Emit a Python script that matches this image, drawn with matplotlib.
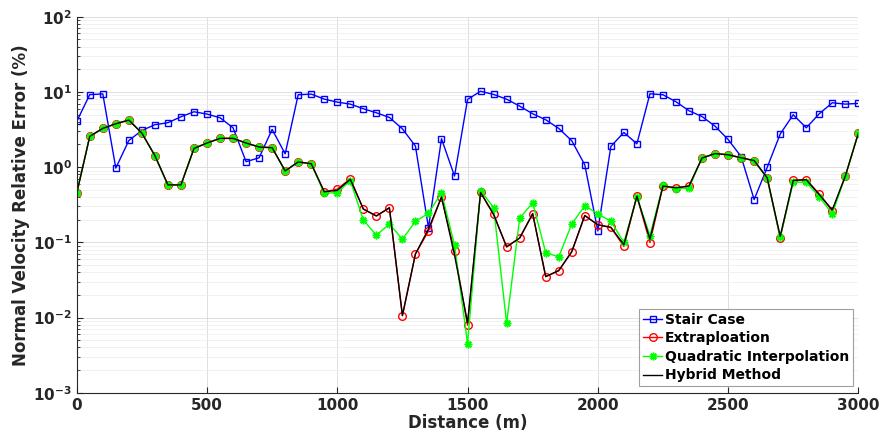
#!/usr/bin/env python3
"""
Normal velocity relative error along the boundary for four schemes
"""
import numpy as np
import matplotlib
matplotlib.use('Agg')
import matplotlib.pyplot as plt
from matplotlib.ticker import LogLocator, FixedLocator

distance = np.arange(0, 3001, 50)

stair_case = [4.05, 9.2, 9.4, 0.97, 2.26, 3.07, 3.66, 3.89, 4.67, 5.44,
              5.07, 4.53, 3.33, 1.18, 1.33, 3.17, 1.5, 9.16, 9.35, 8.02,
              7.31, 6.88, 5.97, 5.28, 4.57, 3.23, 1.90, 0.156, 2.38, 0.76,
              7.94, 10.2, 9.25, 8.0, 6.47, 5.12, 4.26, 3.27, 2.24, 1.07,
              0.142, 1.88, 2.89, 2.04, 9.44, 9.16, 7.39, 5.61, 4.7, 3.5,
              2.33, 1.38, 0.37, 0.99, 2.75, 4.97, 3.33, 5.12, 7.17, 6.88,
              7.03]

extrapolation = [0.45, 2.56, 3.27, 3.77, 4.22, 2.83, 1.42, 0.58, 0.58, 1.77,
                 2.09, 2.41, 2.41, 2.09, 1.85, 1.81, 0.89, 1.17, 1.11, 0.47,
                 0.51, 0.70, 0.277, 0.224, 0.288, 0.0106, 0.070, 0.141, 0.40, 0.076,
                 0.0079, 0.46, 0.235, 0.087, 0.114, 0.24, 0.035, 0.042, 0.075, 0.227,
                 0.171, 0.158, 0.088, 0.41, 0.099, 0.56, 0.53, 0.56, 1.32, 1.51,
                 1.46, 1.33, 1.22, 0.72, 0.115, 0.665, 0.68, 0.44, 0.26, 0.76,
                 2.83]

quadratic = [0.45, 2.56, 3.27, 3.77, 4.22, 2.83, 1.42, 0.58, 0.58, 1.77,
             2.09, 2.41, 2.41, 2.09, 1.85, 1.81, 0.89, 1.17, 1.11, 0.45,
             0.457, 0.66, 0.198, 0.124, 0.175, 0.11, 0.19, 0.243, 0.457, 0.092,
             0.0045, 0.486, 0.29, 0.0084, 0.208, 0.336, 0.073, 0.064, 0.175, 0.307,
             0.238, 0.191, 0.0995, 0.40, 0.123, 0.57, 0.51, 0.53, 1.33, 1.5,
             1.46, 1.32, 1.22, 0.71, 0.117, 0.63, 0.63, 0.40, 0.24, 0.76,
             2.83]

hybrid = [0.45, 2.56, 3.27, 3.77, 4.22, 2.83, 1.42, 0.58, 0.58, 1.77,
          2.09, 2.41, 2.41, 2.09, 1.85, 1.81, 0.89, 1.17, 1.11, 0.47,
          0.49, 0.69, 0.277, 0.224, 0.288, 0.0106, 0.070, 0.15, 0.40, 0.068,
          0.0085, 0.46, 0.235, 0.087, 0.114, 0.24, 0.035, 0.042, 0.075, 0.227,
          0.171, 0.158, 0.093, 0.41, 0.11, 0.56, 0.53, 0.56, 1.32, 1.51,
          1.46, 1.33, 1.22, 0.72, 0.12, 0.665, 0.68, 0.43, 0.27, 0.76,
          2.83]

fig = plt.figure(figsize=(8.84, 4.45), dpi=100)
ax = fig.add_axes([0.0868, 0.1175, 0.8842, 0.845])

# matlab-ish asterisk: 8 spokes
asterisk = (8, 2, 0)

ax.plot(distance, stair_case, '-s', color='#0000ff', lw=1, ms=4.8,
        mfc='none', mew=1, label='Stair Case')
ax.plot(distance, extrapolation, '-o', color='#ff0000', lw=1, ms=5.5,
        mfc='none', mew=1, label='Extraploation')
ax.plot(distance, quadratic, '-', marker=asterisk, color='#00ff00', lw=1, ms=5.5,
        mew=1.1, label='Quadratic Interpolation')
ax.plot(distance, hybrid, '-', color='black', lw=1, label='Hybrid Method')

ax.set_yscale('log')
ax.set_xlim(0, 3000)
ax.set_ylim(1e-3, 1e2)
ax.set_xticks(np.arange(0, 3001, 500))
ax.set_xticklabels([str(v) for v in range(0, 3001, 500)], fontweight='bold')
ax.yaxis.set_major_locator(FixedLocator([1e-3, 1e-2, 1e-1, 1e0, 1e1, 1e2]))
ax.set_yticklabels([r'$\mathbf{10^{-3}}$', r'$\mathbf{10^{-2}}$', r'$\mathbf{10^{-1}}$',
                    r'$\mathbf{10^{0}}$', r'$\mathbf{10^{1}}$', r'$\mathbf{10^{2}}$'])
ax.yaxis.set_minor_locator(LogLocator(base=10, subs=np.arange(2, 10), numticks=20))
ax.tick_params(axis='both', which='both', direction='in', labelsize=11,
               colors='#262626', length=4)
ax.tick_params(axis='y', which='minor', length=2)
ax.tick_params(axis='x', which='minor', bottom=False)

ax.grid(True, which='major', color='#d9d9d9', lw=0.6)
ax.grid(True, which='minor', axis='y', color='#ececec', lw=0.5)
ax.set_axisbelow(True)
for side in ['top', 'right']:
    ax.spines[side].set_visible(False)
for side in ['left', 'bottom']:
    ax.spines[side].set_color('#262626')

ax.set_xlabel('Distance (m)', fontsize=12, fontweight='bold', color='#262626', labelpad=1)
ax.set_ylabel('Normal Velocity Relative Error (%)', fontsize=12, fontweight='bold',
              color='#262626', labelpad=2)

leg = ax.legend(loc='lower right', bbox_to_anchor=(0.993, 0.018), prop={'weight': 'bold', 'size': 10},
                handlelength=1.4, handletextpad=0.2, borderpad=0.25, labelspacing=0.33,
                fancybox=False, framealpha=1, edgecolor='#a0a0a0', borderaxespad=0)
leg.get_frame().set_linewidth(0.8)

plt.savefig('out.png', dpi=100)
